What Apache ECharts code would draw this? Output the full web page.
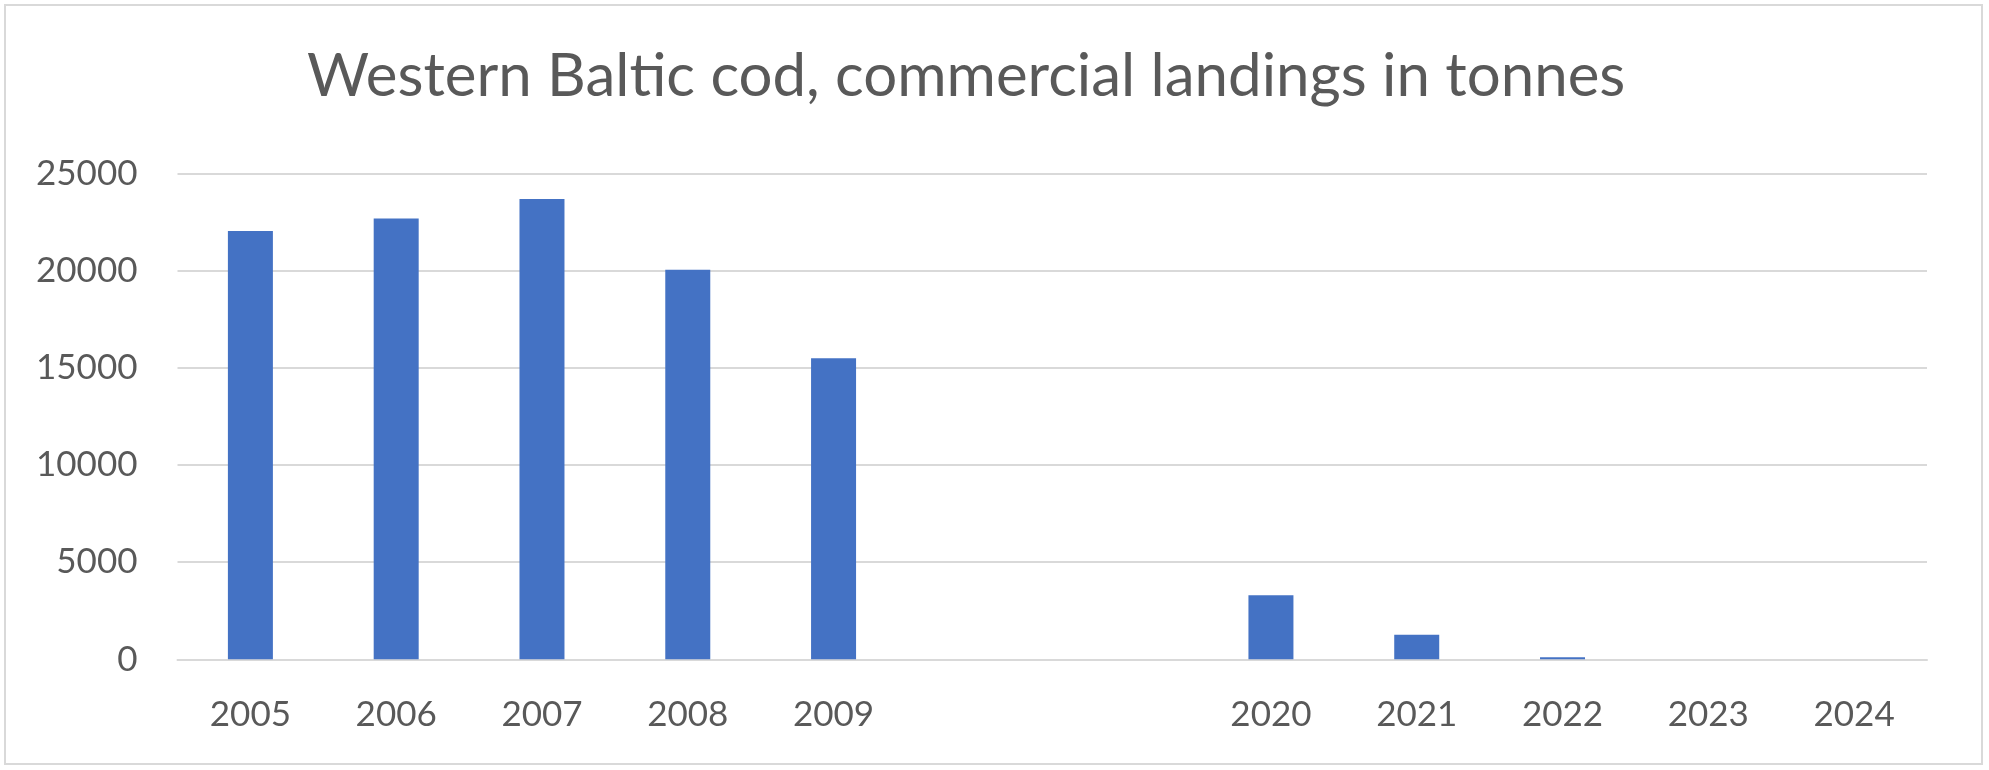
<!DOCTYPE html>
<html>
<head>
<meta charset="utf-8">
<script src="https://cdn.jsdelivr.net/npm/echarts@6/dist/echarts.min.js"></script>
<style>
html,body{margin:0;padding:0;background:#fff;}
#frame{position:absolute;left:4px;top:4px;width:1979px;height:761px;border:2px solid #D9D9D9;box-sizing:border-box;}
#chart{position:absolute;left:0;top:0;width:1989px;height:770px;}
</style>
</head>
<body>
<div id="frame"></div>
<div id="chart"></div>
<script>
const titleText = 'Western Baltic cod, commercial landings in tonnes';
const categories = ['2005','2006','2007','2008','2009','','','2020','2021','2022','2023','2024'];
const landings = [22050, 22700, 23700, 20050, 15500, null, null, 3300, 1270, 100, 0, 0];
const yTicks = { min: 0, max: 25000, interval: 5000 };

const chart = echarts.init(document.getElementById('chart'), null, {renderer:'canvas'});
chart.setOption({
  backgroundColor: 'transparent',
  animation: false,
  title: {
    text: titleText,
    left: 302,
    top: 42,
    textStyle: { fontFamily: 'Lato', fontSize: 60, fontWeight: 'normal', color: '#595959' }
  },
  grid: { left: 177.5, right: 62, top: 173.7, bottom: 110.7, containLabel: false },
  xAxis: {
    type: 'category',
    data: categories,
    axisLine: { show: true, lineStyle: { color: '#D9D9D9', width: 2 } },
    axisTick: { show: false },
    axisLabel: { margin: 38, fontFamily: 'Lato', fontSize: 35, color: '#595959' }
  },
  yAxis: {
    type: 'value',
    min: yTicks.min, max: yTicks.max, interval: yTicks.interval,
    axisLine: { show: false },
    axisTick: { show: false },
    splitLine: { lineStyle: { color: '#D9D9D9', width: 2 } },
    axisLabel: { margin: 40, fontFamily: 'Lato', fontSize: 35, color: '#595959', formatter: v => String(v) }
  },
  series: [{
    type: 'bar',
    data: landings,
    barWidth: 45,
    itemStyle: { color: '#4472C4' }
  }]
});
</script>
</body>
</html>
